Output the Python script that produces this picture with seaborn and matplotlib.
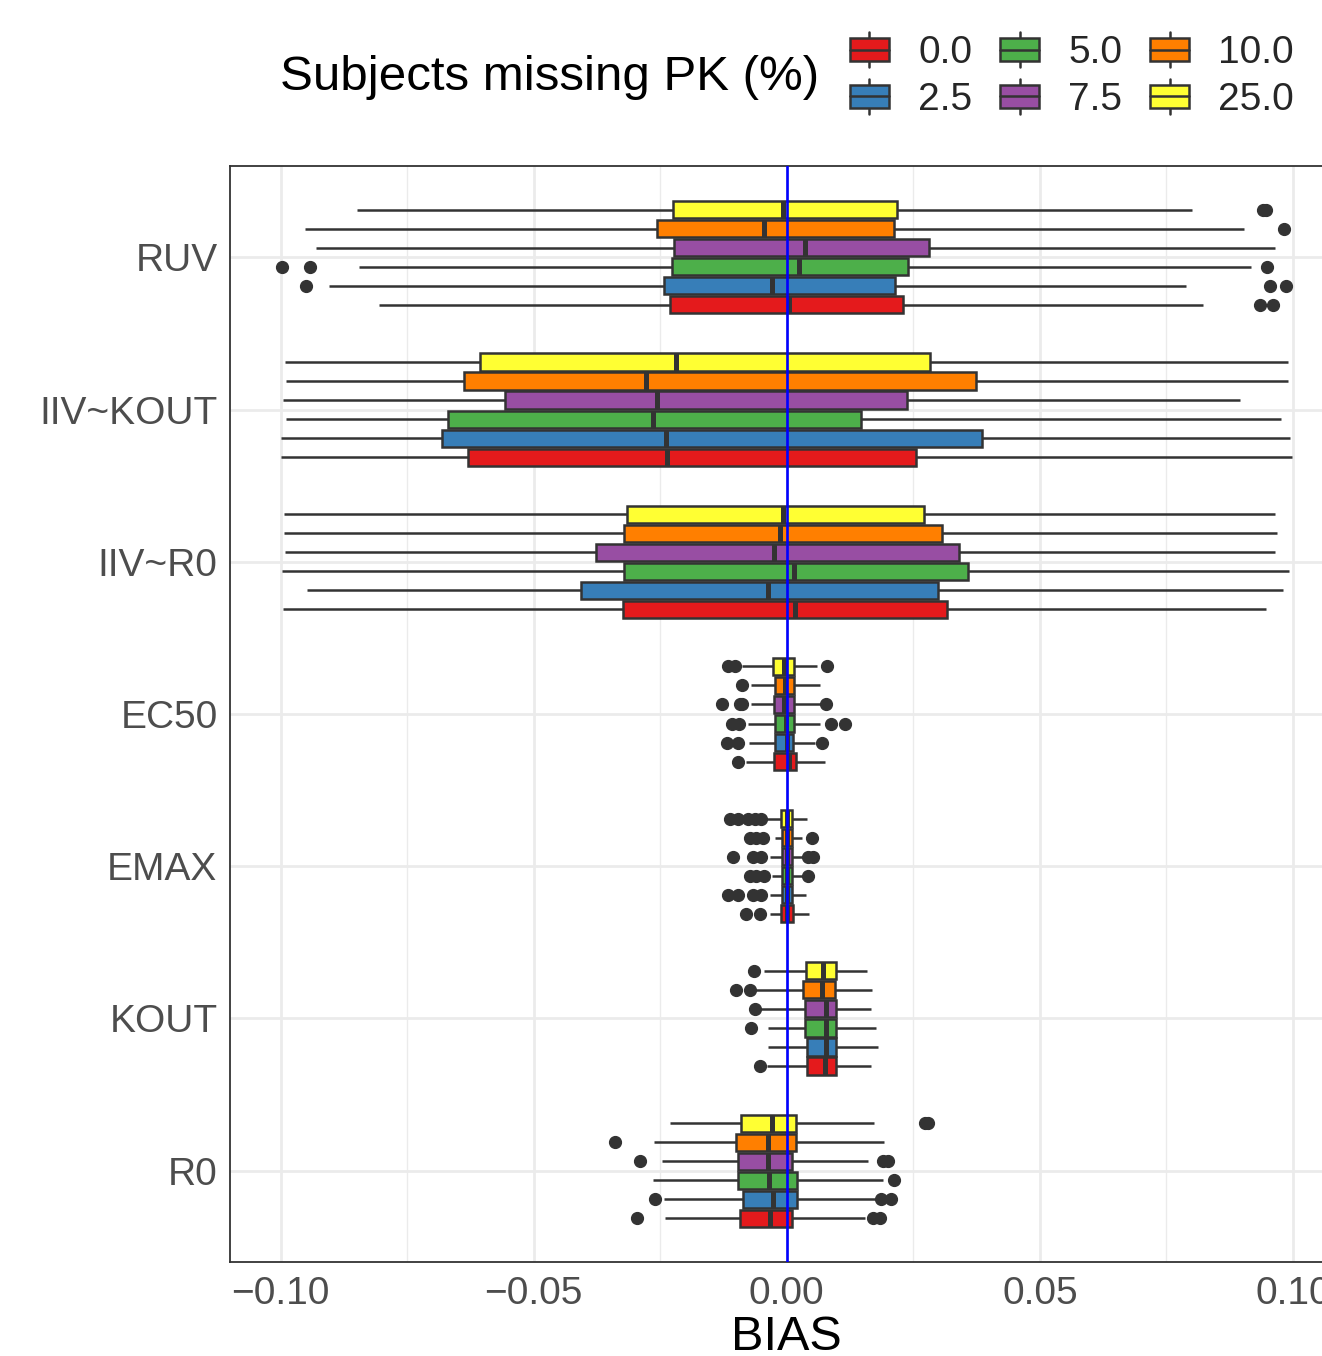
import numpy as np
import pandas as pd
import matplotlib
matplotlib.use("Agg")
import matplotlib.pyplot as plt
from matplotlib.patches import Patch, Rectangle
from matplotlib.lines import Line2D
from matplotlib.legend_handler import HandlerBase
from matplotlib.ticker import FixedLocator, FuncFormatter
import seaborn as sns

# ---------------------------------------------------------------- data
params = ["RUV", "IIV~KOUT", "IIV~R0", "EC50", "EMAX", "KOUT", "R0"]
groups = ["0.0", "2.5", "5.0", "7.5", "10.0", "25.0"]
colors = ["#E41A1C", "#377EB8", "#4DAF4A", "#984EA3", "#FF7F00", "#FFFF33"]

# per-parameter box summaries, listed in the order of `groups`
q1 = {
    "RUV":      [-0.0231, -0.0243, -0.0227, -0.0223, -0.0256, -0.0224],
    "IIV~KOUT": [-0.0629, -0.0682, -0.0669, -0.0557, -0.0637, -0.0607],
    "IIV~R0":   [-0.0323, -0.0406, -0.0321, -0.0377, -0.0321, -0.0316],
    "EC50":     [-0.0026, -0.0023, -0.0024, -0.0026, -0.0024, -0.0028],
    "EMAX":     [-0.0012, -0.0010, -0.0009, -0.0009, -0.0009, -0.0012],
    "KOUT":     [0.0039, 0.0039, 0.0036, 0.0036, 0.0032, 0.0038],
    "R0":       [-0.0093, -0.0086, -0.0096, -0.0097, -0.0101, -0.0090],
}
median = {
    "RUV":      [0.0004, -0.0029, 0.0024, 0.0036, -0.0045, -0.0007],
    "IIV~KOUT": [-0.0237, -0.0239, -0.0264, -0.0256, -0.0279, -0.0219],
    "IIV~R0":   [0.0017, -0.0037, 0.0014, -0.0026, -0.0014, -0.0007],
    "EC50":     [0.0004, 0.0000, -0.0001, -0.0006, -0.0003, -0.0006],
    "EMAX":     [0.0001, 0.0000, 0.0000, 0.0000, 0.0001, 0.0000],
    "KOUT":     [0.0075, 0.0078, 0.0077, 0.0078, 0.0069, 0.0072],
    "R0":       [-0.0034, -0.0027, -0.0035, -0.0037, -0.0037, -0.0029],
}
q3 = {
    "RUV":      [0.0230, 0.0213, 0.0240, 0.0280, 0.0211, 0.0218],
    "IIV~KOUT": [0.0255, 0.0386, 0.0147, 0.0237, 0.0373, 0.0282],
    "IIV~R0":   [0.0317, 0.0299, 0.0357, 0.0340, 0.0306, 0.0271],
    "EC50":     [0.0018, 0.0013, 0.0014, 0.0014, 0.0014, 0.0014],
    "EMAX":     [0.0013, 0.0010, 0.0010, 0.0010, 0.0010, 0.0011],
    "KOUT":     [0.0097, 0.0098, 0.0097, 0.0097, 0.0095, 0.0097],
    "R0":       [0.0011, 0.0020, 0.0020, 0.0011, 0.0018, 0.0019],
}
whisker_lo = {
    "RUV":      [-0.0805, -0.0904, -0.0845, -0.0931, -0.0951, -0.0849],
    "IIV~KOUT": [-0.1000, -0.1000, -0.0989, -0.0996, -0.0989, -0.0991],
    "IIV~R0":   [-0.0996, -0.0948, -0.0998, -0.0992, -0.0994, -0.0994],
    "EC50":     [-0.0080, -0.0075, -0.0076, -0.0070, -0.0070, -0.0088],
    "EMAX":     [-0.0034, -0.0034, -0.0030, -0.0034, -0.0024, -0.0040],
    "KOUT":     [-0.0040, -0.0037, -0.0037, -0.0050, -0.0060, -0.0045],
    "R0":       [-0.0241, -0.0243, -0.0264, -0.0246, -0.0263, -0.0230],
}
whisker_hi = {
    "RUV":      [0.0822, 0.0789, 0.0917, 0.0964, 0.0904, 0.0801],
    "IIV~KOUT": [0.0998, 0.0995, 0.0977, 0.0896, 0.0991, 0.0991],
    "IIV~R0":   [0.0946, 0.0981, 0.0992, 0.0964, 0.0968, 0.0964],
    "EC50":     [0.0075, 0.0055, 0.0065, 0.0069, 0.0065, 0.0060],
    "EMAX":     [0.0044, 0.0038, 0.0030, 0.0032, 0.0030, 0.0039],
    "KOUT":     [0.0167, 0.0180, 0.0176, 0.0167, 0.0169, 0.0158],
    "R0":       [0.0155, 0.0176, 0.0190, 0.0161, 0.0192, 0.0172],
}
outliers = {
    "RUV":      [[0.0935, 0.0960], [-0.0949, 0.0954, 0.0987],
                 [-0.0998, -0.0942, 0.0948], [], [0.0983], [0.0940, 0.0946]],
    "IIV~KOUT": [[], [], [], [], [], []],
    "IIV~R0":   [[], [], [], [], [], []],
    "EC50":     [[-0.0096], [-0.0119, -0.0097, 0.0069],
                 [-0.0109, -0.0094, 0.0088, 0.0115],
                 [-0.0129, -0.0093, -0.0088, 0.0078], [-0.0088],
                 [-0.0116, -0.0103, 0.0080]],
    "EMAX":     [[-0.0080, -0.0053], [-0.0116, -0.0096, -0.0067, -0.0050],
                 [-0.0073, -0.0060, -0.0045, 0.0042],
                 [-0.0107, -0.0067, -0.0050, 0.0042, 0.0052],
                 [-0.0073, -0.0060, -0.0047, 0.0049],
                 [-0.0113, -0.0096, -0.0076, -0.0063, -0.0050]],
    "KOUT":     [[-0.0053], [], [-0.0070], [-0.0062], [-0.0101, -0.0072],
                 [-0.0065]],
    "R0":       [[-0.0296, 0.0170, 0.0185], [-0.0261, 0.0187, 0.0206],
                 [0.0211], [-0.0291, 0.0190, 0.0200], [-0.0340],
                 [0.0273, 0.0278]],
}

# ------------------------------------------- long table for seaborn
# each box is represented by a sample whose quartiles, whisker ends
# and outlying points equal the summaries above
REP = 40
rows = []
for p in params:
    for i, g in enumerate(groups):
        sample = ([whisker_lo[p][i]] + [q1[p][i]] * REP + [median[p][i]] * REP
                  + [q3[p][i]] * REP + [whisker_hi[p][i]] + outliers[p][i])
        rows += [(p, g, v) for v in sample]
df = pd.DataFrame(rows, columns=["param", "group", "BIAS"])

# ---------------------------------------------------------------- style
sns.set_style("white")
plt.rcParams["font.family"] = ["Liberation Sans", "DejaVu Sans"]

EDGE = "#333333"
LW = 1.8
palette = dict(zip(groups, colors))

fig = plt.figure(figsize=(13.22, 13.56), dpi=100)
W, H = 1322, 1356
xmin, xmax = -0.11, 0.11
px_per_unit = 253 / 0.05
ax_left = 230
ax_right = 787 + xmax * px_per_unit
ax = fig.add_axes([ax_left / W, 1 - 1262 / H, (ax_right - ax_left) / W, 1096 / H])

sns.boxplot(
    data=df, x="BIAS", y="param", hue="group",
    order=params, hue_order=groups[::-1], palette=palette,
    saturation=1, width=0.75, gap=0.1, whis=1.5,
    linecolor=EDGE, linewidth=LW, showcaps=False,
    flierprops=dict(marker="o", markerfacecolor=EDGE, markeredgecolor=EDGE,
                    markersize=8.5),
    medianprops=dict(color=EDGE, linewidth=3.6),
    whiskerprops=dict(color=EDGE, linewidth=LW),
    legend=False, ax=ax,
)

ax.axvline(0, color="blue", lw=1.9, zorder=10)

ax.set_xlim(xmin, xmax)
ax.set_ylim(len(params) - 1 + 0.6, -0.6)

ax.xaxis.set_major_locator(FixedLocator([-0.10, -0.05, 0.0, 0.05, 0.10]))
ax.xaxis.set_minor_locator(FixedLocator([-0.075, -0.025, 0.025, 0.075]))
ax.xaxis.set_major_formatter(FuncFormatter(lambda v, _: f"{v:.2f}".replace("-", "\u2212")))

ax.set_axisbelow(True)
ax.grid(which="major", color="#EBEBEB", lw=2.0)
ax.grid(which="minor", axis="x", color="#EBEBEB", lw=1.0)

for s in ax.spines.values():
    s.set_visible(True)
    s.set_color(EDGE)
    s.set_linewidth(1.3)

ax.tick_params(axis="both", which="major", length=5, width=1.2, color=EDGE,
               labelsize=28, labelcolor="#4D4D4D", pad=3)
ax.tick_params(axis="x", which="major", pad=5)
ax.tick_params(axis="y", which="major", pad=4)
ax.tick_params(axis="both", which="minor", length=0)
ax.set_ylabel("")
ax.set_xlabel("BIAS", fontsize=35, color="black", labelpad=2)


# ---------------------------------------------------------------- legend
class BoxKey(HandlerBase):
    def create_artists(self, legend, orig_handle, xdescent, ydescent,
                       width, height, fontsize, trans):
        x0, y0 = -xdescent, -ydescent
        stub = 0.17 * height
        fc = orig_handle.get_facecolor()
        box = Rectangle((x0, y0 + stub), width, height - 2 * stub,
                        facecolor=fc, edgecolor=EDGE, lw=LW, transform=trans)
        mid = Line2D([x0, x0 + width], [y0 + height / 2] * 2,
                     color=EDGE, lw=LW, transform=trans)
        top = Line2D([x0 + width / 2] * 2, [y0 + height - stub, y0 + height],
                     color=EDGE, lw=LW, transform=trans)
        bot = Line2D([x0 + width / 2] * 2, [y0, y0 + stub],
                     color=EDGE, lw=LW, transform=trans)
        return [top, bot, box, mid]


handles = [Patch(facecolor=c) for c in colors]
fig.legend(handles, groups, ncol=3, loc="center left",
           bbox_to_anchor=(850 / W, 1 - 75 / H), frameon=False,
           fontsize=28, handlelength=1.0, handleheight=1.0,
           handletextpad=0.75, columnspacing=0.72, labelspacing=0.2,
           borderpad=0, borderaxespad=0,
           handler_map={Patch: BoxKey()})
fig.text(280 / W, 1 - 77 / H, "Subjects missing PK (%)", fontsize=35.5,
         ha="left", va="center", color="black")

fig.savefig("out.png", dpi=100)
